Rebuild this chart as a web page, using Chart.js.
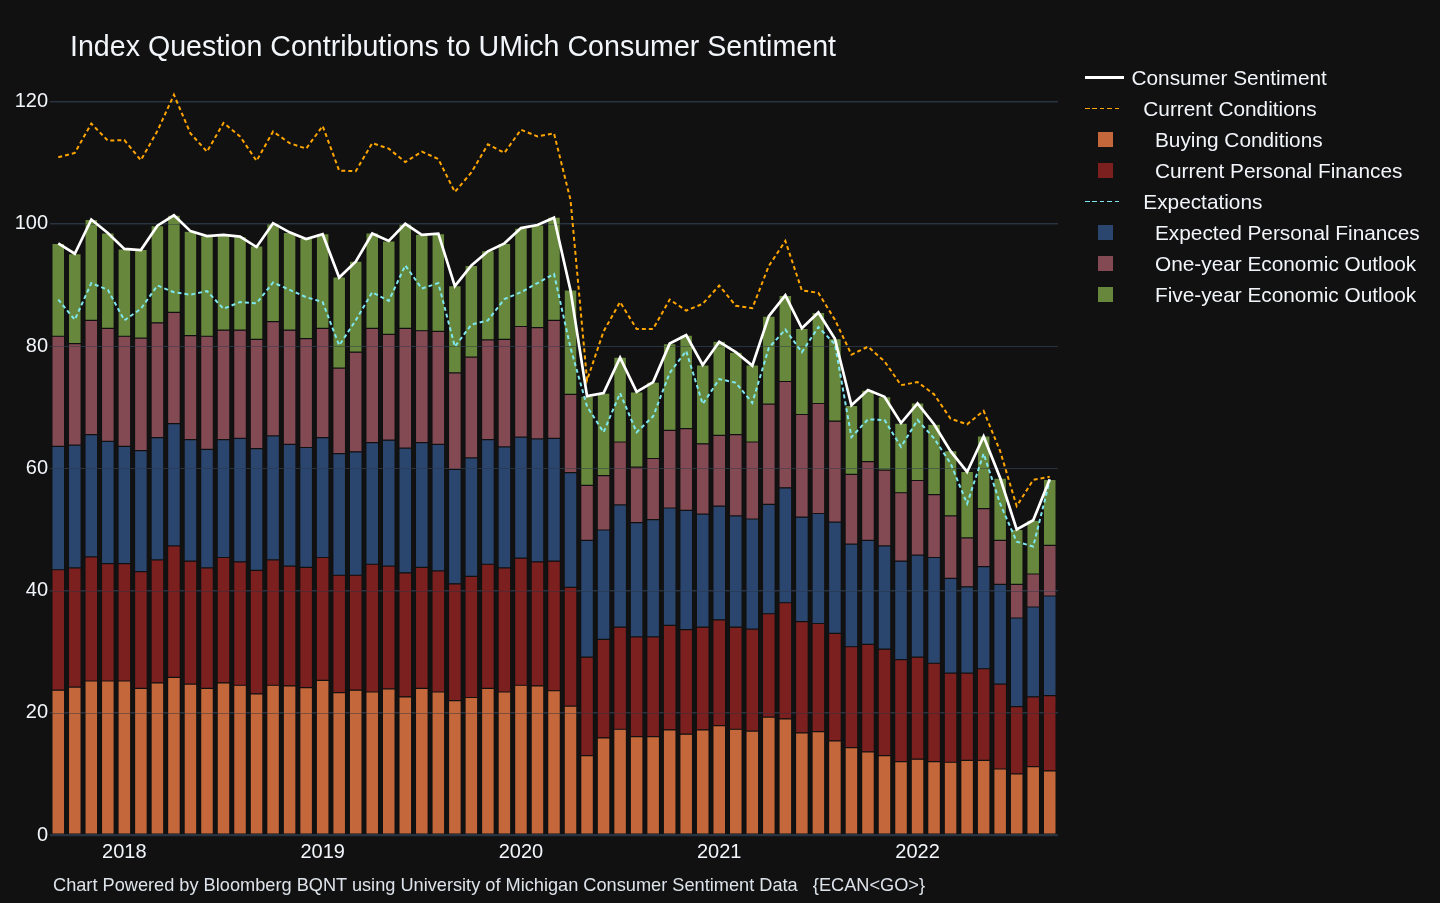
<!DOCTYPE html>
<html>
<head>
<meta charset="utf-8">
<script src="https://cdn.jsdelivr.net/npm/chart.js@4.4.0/dist/chart.umd.min.js"></script>
<style>
  html, body { margin: 0; padding: 0; background: #111111; }
  #wrap { position: relative; width: 1440px; height: 903px; background: #111111; overflow: hidden; }
  #c { position: absolute; left: 0; top: 0; }
  .t { position: absolute; font-family: "Liberation Sans", Arial, sans-serif; color: #f2f5fa; white-space: pre; line-height: 1; }
  .sw { position: absolute; }
</style>
</head>
<body>
<div id="wrap">
  <canvas id="c" width="1440" height="903"></canvas>
  <div id="overlay"></div>
</div>
<script>
// ---- Data ----
const months = [
  '2017-08','2017-09','2017-10','2017-11','2017-12',
  '2018-01','2018-02','2018-03','2018-04','2018-05','2018-06','2018-07','2018-08','2018-09','2018-10','2018-11','2018-12',
  '2019-01','2019-02','2019-03','2019-04','2019-05','2019-06','2019-07','2019-08','2019-09','2019-10','2019-11','2019-12',
  '2020-01','2020-02','2020-03','2020-04','2020-05','2020-06','2020-07','2020-08','2020-09','2020-10','2020-11','2020-12',
  '2021-01','2021-02','2021-03','2021-04','2021-05','2021-06','2021-07','2021-08','2021-09','2021-10','2021-11','2021-12',
  '2022-01','2022-02','2022-03','2022-04','2022-05','2022-06','2022-07','2022-08'
];

const buyingConditions = [
  23.7,24.2,25.2,25.2,25.2,
  24.0,24.9,25.8,24.7,24.0,24.9,24.5,23.1,24.5,24.4,24.1,25.3,
  23.3,23.7,23.4,23.9,22.6,24.0,23.4,22.0,22.5,24.0,23.4,24.5,
  24.4,23.6,21.1,13.0,15.9,17.3,16.1,16.1,17.2,16.5,17.2,17.9,
  17.3,17.0,19.3,19.0,16.7,16.9,15.4,14.3,13.6,13.0,12.0,12.4,
  12.0,11.9,12.2,12.2,10.8,10.0,11.2,10.5
];
const currentPersonalFinances = [
  19.7,19.5,20.3,19.2,19.2,
  19.1,20.1,21.5,20.1,19.7,20.5,20.2,20.2,20.5,19.6,19.7,20.1,
  19.2,18.8,20.9,20.1,20.3,19.8,19.8,19.1,19.8,20.3,20.3,20.8,
  20.3,21.2,19.4,16.1,16.1,16.7,16.3,16.3,17.1,17.1,16.8,17.3,
  16.7,16.7,16.9,19.0,18.2,17.7,17.6,16.5,17.6,17.4,16.7,16.7,
  16.1,14.6,14.3,15.0,13.9,11.0,11.4,12.3
];
const expectedPersonalFinances = [
  20.2,20.1,20.0,20.0,19.2,
  19.8,20.0,20.0,19.9,19.4,19.3,20.2,19.9,20.3,19.9,19.6,19.6,
  19.9,20.2,19.9,20.6,20.4,20.4,20.7,18.7,19.4,20.4,19.8,19.8,
  20.1,20.1,18.8,19.1,17.9,20.0,18.7,19.2,19.2,19.5,18.5,18.6,
  18.2,18.0,17.9,18.8,17.1,18.0,18.2,16.8,17.0,16.9,16.1,16.7,
  17.3,15.5,14.1,16.7,16.3,14.5,14.7,16.3
];
const oneYearOutlook = [
  18.0,16.6,18.7,18.5,18.0,
  18.4,18.8,18.2,17.0,18.5,17.9,17.7,17.9,18.7,18.7,17.8,17.9,
  14.0,16.3,18.7,17.3,19.6,18.3,18.5,15.8,16.5,16.3,17.6,18.1,
  18.2,19.3,12.8,9.0,8.9,10.3,9.1,10.0,12.7,13.4,11.5,11.6,
  13.3,12.6,16.4,17.4,16.8,18.0,16.5,11.4,12.9,12.4,11.2,12.2,
  10.3,10.2,8.0,9.5,7.2,5.5,5.4,8.3
];
const fiveYearOutlook = [
  15.2,14.7,16.5,15.6,14.3,
  14.5,15.9,15.9,17.1,16.4,15.6,15.3,15.3,16.1,16.0,16.4,15.5,
  14.9,14.9,15.6,15.3,17.1,15.8,16.0,14.3,15.0,14.6,15.7,16.1,
  16.8,16.9,17.1,14.6,13.5,13.9,12.3,12.5,14.2,15.3,12.9,15.4,
  13.5,12.6,14.4,14.1,14.1,14.9,13.5,11.3,11.7,12.0,11.4,12.7,
  11.5,10.7,10.9,11.9,10.2,9.0,8.8,10.8
];
const consumerSentiment = [
  96.8,95.1,100.7,98.5,95.9,
  95.7,99.7,101.4,98.8,98.0,98.2,97.9,96.2,100.1,98.6,97.5,98.3,
  91.2,93.8,98.4,97.2,100.0,98.2,98.4,89.8,93.2,95.5,96.8,99.3,
  99.8,101.0,89.1,71.8,72.3,78.1,72.5,74.1,80.4,81.8,76.9,80.7,
  79.0,76.8,84.9,88.3,82.9,85.5,81.2,70.3,72.8,71.7,67.4,70.6,
  67.2,62.8,59.4,65.2,58.4,50.0,51.5,58.2
];
const currentConditions = [
  110.9,111.6,116.4,113.6,113.7,
  110.4,115.2,121.1,114.8,111.8,116.5,114.3,110.3,115.1,113.2,112.3,116.0,
  108.7,108.6,113.2,112.3,110.1,111.8,110.6,105.2,108.4,113.0,111.6,115.4,
  114.3,114.8,103.9,74.4,82.4,87.2,82.8,82.8,87.6,85.8,86.9,89.9,
  86.6,86.2,93.1,97.2,89.1,88.7,84.3,78.6,79.9,77.5,73.6,74.1,
  72.1,68.1,67.2,69.4,62.8,53.8,58.1,58.6
];
const expectations = [
  87.6,84.3,90.3,89.2,84.2,
  86.1,89.9,88.8,88.4,89.0,86.1,87.2,87.0,90.4,89.2,88.0,87.2,
  80.1,84.2,88.8,87.4,93.2,89.4,90.3,79.9,83.5,84.2,87.7,88.8,
  90.3,91.8,79.7,70.1,65.9,72.3,65.9,68.5,75.6,79.2,70.5,74.6,
  74.0,70.7,79.7,82.7,79.0,83.1,80.3,65.1,68.0,67.9,63.5,67.9,
  64.9,60.8,54.2,62.4,54.2,48.0,47.2,58.0
];
// year ticks sit at the month-end of December (i.e. 1 January)
const yearTickMonths = ['2017-12','2018-12','2019-12','2020-12','2021-12'];
const yearTickLabels = ['2018','2019','2020','2021','2022'];
const yTicks = [0, 20, 40, 60, 80, 100, 120];

const titleText = 'Index Question Contributions to UMich Consumer Sentiment';
const footerText = 'Chart Powered by Bloomberg BQNT using University of Michigan Consumer Sentiment Data   {ECAN<GO>}';

// ---- Styles ----
const BG = '#111111';
const GRID = '#283442';
const FONT = '"Liberation Sans", Arial, sans-serif';
const TXT = '#f2f5fa';
const colors = {
  buying: '#c4673a',
  cpf: '#7b1f1f',
  epf: '#2b466e',
  one: '#834a54',
  five: '#67883c',
  sent: '#ffffff',
  cur: '#ffa500',
  exp: '#7fe6ef'
};

function barDs(label, data, color) {
  return {
    type: 'bar', label, data,
    backgroundColor: color, borderColor: BG, borderWidth: 0.6, borderSkipped: false,
    stack: 'bars', order: 2,
    barPercentage: 0.77, categoryPercentage: 1.0
  };
}
function lineDs(label, data, color, width, dash, stackId) {
  return {
    type: 'line', label, data,
    borderColor: color, backgroundColor: color, borderWidth: width, borderDash: dash,
    pointRadius: 0, pointHoverRadius: 0, tension: 0, fill: false,
    stack: stackId, order: 0
  };
}

const gridOverPlugin = {
  id: 'gridOver',
  beforeDatasetsDraw(chart) { chart.$barsDrawn = 0; },
  afterDatasetDraw(chart, args) {
    if (chart.data.datasets[args.index].type !== 'bar') return;
    chart.$barsDrawn++;
    if (chart.$barsDrawn !== 5) return;
    const { ctx, chartArea } = chart;
    const y = chart.scales.y;
    ctx.save();
    ctx.strokeStyle = 'rgba(40,52,66,0.45)';
    yTicks.forEach(v => {
      const py = Math.round(y.getPixelForValue(v)) + 0.5;
      ctx.lineWidth = v === 0 ? 2 : 1;
      ctx.beginPath();
      ctx.moveTo(chartArea.left, py);
      ctx.lineTo(chartArea.right, py);
      ctx.stroke();
    });
    ctx.restore();
  }
};

const ctx = document.getElementById('c').getContext('2d');
new Chart(ctx, {
  data: {
    labels: months,
    datasets: [
      barDs('Buying Conditions', buyingConditions, colors.buying),
      barDs('Current Personal Finances', currentPersonalFinances, colors.cpf),
      barDs('Expected Personal Finances', expectedPersonalFinances, colors.epf),
      barDs('One-year Economic Outlook', oneYearOutlook, colors.one),
      barDs('Five-year Economic Outlook', fiveYearOutlook, colors.five),
      lineDs('Consumer Sentiment', consumerSentiment, colors.sent, 2.7, [], 's1'),
      lineDs('Current Conditions', currentConditions, colors.cur, 2, [4, 3], 's2'),
      lineDs('Expectations', expectations, colors.exp, 2, [4, 3], 's3')
    ]
  },
  options: {
    responsive: false,
    animation: false,
    devicePixelRatio: 1,
    layout: { padding: { left: 0, right: 382, top: 71, bottom: 0 } },
    plugins: { legend: { display: false }, title: { display: false }, tooltip: { enabled: false } },
    scales: {
      x: {
        type: 'category',
        stacked: true,
        offset: true,
        grid: { display: false, drawTicks: false },
        border: { display: false },
        afterFit(s) { s.height = 68; },
        ticks: {
          autoSkip: false, maxRotation: 0, minRotation: 0, padding: 5,
          color: TXT, font: { family: FONT, size: 20 },
          callback(val, idx) {
            const m = months[idx];
            const k = yearTickMonths.indexOf(m);
            return k >= 0 ? yearTickLabels[k] : '';
          }
        }
      },
      y: {
        stacked: true,
        min: 0, max: 125,
        afterFit(s) { s.width = 50; },
        afterBuildTicks(s) { s.ticks = yTicks.map(v => ({ value: v })); },
        grid: {
          color: GRID, drawTicks: false,
          lineWidth: c => (c.tick && c.tick.value === 0 ? 2 : 1)
        },
        border: { display: false },
        ticks: { padding: 2, color: TXT, font: { family: FONT, size: 20 } }
      }
    }
  },
  plugins: [gridOverPlugin]
});

// ---- HTML text: title, legend, footer ----
const ov = document.getElementById('overlay');
function addText(txt, x, baseline, size, color) {
  const d = document.createElement('div');
  d.className = 't';
  d.textContent = txt;
  d.style.left = x + 'px';
  d.style.top = (baseline - 0.8465 * size) + 'px';
  d.style.fontSize = size + 'px';
  if (color) d.style.color = color;
  ov.appendChild(d);
}
function addLine(x1, x2, y, color, width, dashed) {
  const d = document.createElement('div');
  d.className = 'sw';
  d.style.left = x1 + 'px';
  d.style.top = (y - width / 2) + 'px';
  d.style.width = (x2 - x1) + 'px';
  d.style.height = width + 'px';
  d.style.background = dashed
    ? 'repeating-linear-gradient(to right, ' + color + ' 0px, ' + color + ' 4.5px, transparent 4.5px, transparent 7.4px)'
    : color;
  ov.appendChild(d);
}
function addSquare(x, yc, size, color) {
  const d = document.createElement('div');
  d.className = 'sw';
  d.style.left = x + 'px';
  d.style.top = (yc - size / 2) + 'px';
  d.style.width = size + 'px';
  d.style.height = size + 'px';
  d.style.background = color;
  ov.appendChild(d);
}

addText(titleText, 70, 56, 28.6, TXT);
addText(footerText, 53, 891, 18.2, '#dde3ea');

const legendItems = [
  { label: 'Consumer Sentiment', kind: 'line', color: colors.sent, textX: 1131.5 },
  { label: 'Current Conditions', kind: 'dash', color: colors.cur, textX: 1143.3 },
  { label: 'Buying Conditions', kind: 'sq', color: colors.buying, textX: 1155 },
  { label: 'Current Personal Finances', kind: 'sq', color: colors.cpf, textX: 1155 },
  { label: 'Expectations', kind: 'dash', color: colors.exp, textX: 1143.3 },
  { label: 'Expected Personal Finances', kind: 'sq', color: colors.epf, textX: 1155 },
  { label: 'One-year Economic Outlook', kind: 'sq', color: colors.one, textX: 1155 },
  { label: 'Five-year Economic Outlook', kind: 'sq', color: colors.five, textX: 1155 }
];
legendItems.forEach((it, i) => {
  const baseline = 85.5 + 31 * i;
  const yc = baseline - 8;
  if (it.kind === 'line') addLine(1085, 1124, yc, it.color, 2.6, false);
  else if (it.kind === 'dash') addLine(1085, 1122, yc, it.color, 1.8, true);
  else addSquare(1097.5, yc, 15, it.color);
  addText(it.label, it.textX, baseline, 20.8, TXT);
});
</script>
</body>
</html>
